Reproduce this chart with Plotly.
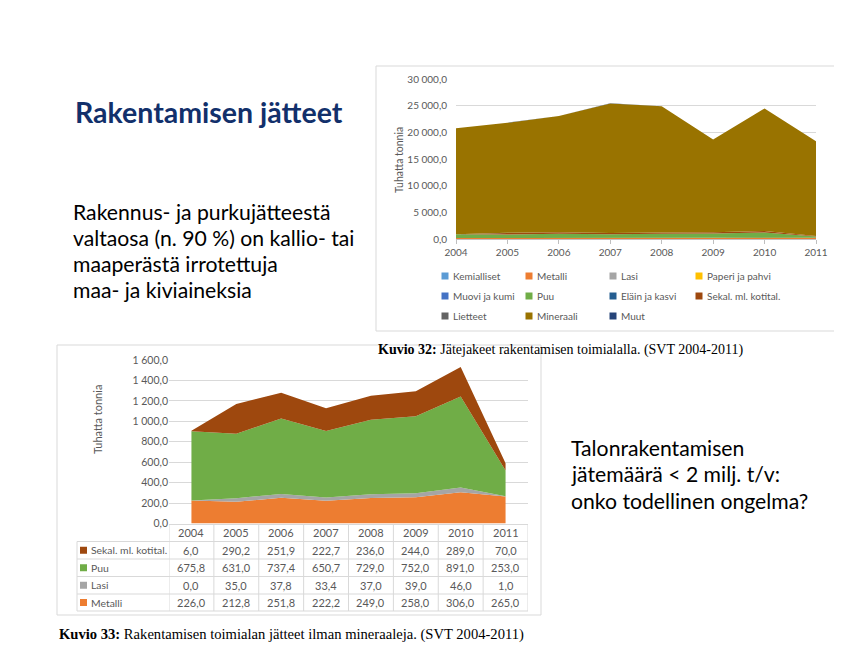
"""
Slide: Rakentamisen jätteet - two stacked area charts with text
"""
import plotly.graph_objects as go

W, H = 842, 651
OFF = 8  # page body margin in the browser

years = [2004, 2005, 2006, 2007, 2008, 2009, 2010, 2011]

# construction waste fractions, thousand tonnes
kemialliset = [12.0, 10.0, 11.0, 9.0, 10.0, 9.0, 11.0, 8.0]
metalli = [226.0, 212.8, 251.8, 222.2, 249.0, 258.0, 306.0, 265.0]
lasi = [0.0, 35.0, 37.8, 33.4, 37.0, 39.0, 46.0, 1.0]
paperi = [18.0, 16.0, 17.0, 15.0, 16.0, 14.0, 15.0, 12.0]
muovi = [6.0, 5.0, 6.0, 5.0, 5.0, 5.0, 6.0, 4.0]
puu = [675.8, 631.0, 737.4, 650.7, 729.0, 752.0, 891.0, 253.0]
elain = [3.0, 3.0, 3.0, 2.0, 3.0, 2.0, 3.0, 2.0]
sekal = [6.0, 290.2, 251.9, 222.7, 236.0, 244.0, 289.0, 70.0]
lietteet = [4.0, 4.0, 3.0, 3.0, 4.0, 3.0, 4.0, 3.0]
mineraali = [19850.0, 20650.0, 21800.0, 24320.0, 23650.0, 17400.0, 22950.0, 17750.0]
muut = [8.0, 7.0, 8.0, 6.0, 7.0, 6.0, 7.0, 5.0]

top_series = [
    ("Kemialliset", kemialliset, "#5B9BD5"),
    ("Metalli", metalli, "#ED7D31"),
    ("Lasi", lasi, "#A5A5A5"),
    ("Paperi ja pahvi", paperi, "#FFC000"),
    ("Muovi ja kumi", muovi, "#4472C4"),
    ("Puu", puu, "#70AD47"),
    ("Eläin ja kasvi", elain, "#255E91"),
    ("Sekal. ml. kotital.", sekal, "#9E480E"),
    ("Lietteet", lietteet, "#636363"),
    ("Mineraali", mineraali, "#997300"),
    ("Muut", muut, "#264478"),
]

# bottom chart: stacked bottom -> top
bottom_series = [
    ("Metalli", metalli, "#ED7D31"),
    ("Lasi", lasi, "#A5A5A5"),
    ("Puu", puu, "#70AD47"),
    ("Sekal. ml. kotital.", sekal, "#9E480E"),
]

left_lines = ["Rakennus- ja purkujätteestä", "valtaosa (n. 90 %) on kallio- tai",
              "maaperästä irrotettuja", "maa- ja kiviaineksia"]
right_lines = ["Talonrakentamisen", "jätemäärä < 2 milj. t/v:", "onko todellinen ongelma?"]

FONT = "Lato"
GRAY = "#595959"
GRID = "#D9D9D9"


def px(x):
    return (x - OFF) / W


def py(y):
    return 1 - (y - OFF) / H


def fi(v):
    """Finnish number format: 1 234,5"""
    return f"{v:,.1f}".replace(",", " ").replace(".", ",")


def note(text, x, y, size=10, color=GRAY, family=FONT, xanchor='left', xref='paper', **kw):
    return dict(text=text, xref=xref, yref='paper', x=x, y=y,
                xanchor=xanchor, yanchor='middle', showarrow=False,
                font=dict(family=family, size=size, color=color), **kw)


fig = go.Figure()

for name, vals, color in top_series:
    fig.add_trace(go.Scatter(
        x=years, y=vals, name=name, mode='lines',
        stackgroup='top', line=dict(width=0, color=color),
        fillcolor=color, xaxis='x', yaxis='y', showlegend=False
    ))

for name, vals, color in bottom_series:
    fig.add_trace(go.Scatter(
        x=years, y=vals, name=name, mode='lines',
        stackgroup='bottom', line=dict(width=0, color=color),
        fillcolor=color, xaxis='x2', yaxis='y2', showlegend=False
    ))

shapes = []
annotations = []

# chart frames
shapes.append(dict(type='rect', xref='paper', yref='paper',
                   x0=px(376), x1=px(838), y0=py(331), y1=py(66),
                   line=dict(color=GRID, width=1), layer='below'))
shapes.append(dict(type='rect', xref='paper', yref='paper',
                   x0=px(57), x1=px(541), y0=py(615), y1=py(345),
                   line=dict(color=GRID, width=1), layer='below'))

# manual legend for top chart, 4 columns
col_x = [445, 529, 613, 699]
row_y = [276, 296, 316]
for i, (name, vals, color) in enumerate(top_series):
    cx = col_x[i % 4]
    ry = row_y[i // 4]
    shapes.append(dict(type='rect', xref='paper', yref='paper',
                       x0=px(cx - 3.5), x1=px(cx + 3.5),
                       y0=py(ry + 3.5), y1=py(ry - 3.5),
                       fillcolor=color, line=dict(width=0)))
    annotations.append(note(name, px(cx + 6), py(ry)))

# data table under bottom chart
row_lines = [541.5, 559, 576.5, 594, 611]
table_rows = [
    ("Sekal. ml. kotital.", sekal, "#9E480E"),
    ("Puu", puu, "#70AD47"),
    ("Lasi", lasi, "#A5A5A5"),
    ("Metalli", metalli, "#ED7D31"),
]
for yy in row_lines:
    shapes.append(dict(type='line', xref='paper', yref='paper',
                       x0=px(77), x1=px(528), y0=py(yy), y1=py(yy),
                       line=dict(color=GRID, width=1)))
shapes.append(dict(type='line', xref='paper', yref='paper',
                   x0=px(77), x1=px(77), y0=py(541.5), y1=py(611),
                   line=dict(color=GRID, width=1)))
for yr in [years[0] - 0.5] + [y + 0.5 for y in years]:
    shapes.append(dict(type='line', xref='x2', yref='paper',
                       x0=yr, x1=yr, y0=py(524), y1=py(611),
                       line=dict(color=GRID, width=1)))

for yr in years:
    annotations.append(note(str(yr), yr, py(532.5), size=11, xanchor='center', xref='x2'))

for r, (name, vals, color) in enumerate(table_rows):
    cy = (row_lines[r] + row_lines[r + 1]) / 2
    shapes.append(dict(type='rect', xref='paper', yref='paper',
                       x0=px(80), x1=px(87), y0=py(cy + 3.5), y1=py(cy - 3.5),
                       fillcolor=color, line=dict(width=0)))
    annotations.append(note(name, px(89), py(cy), size=10.4))
    for yr, v in zip(years, vals):
        annotations.append(note(fi(v), yr, py(cy), size=11, xanchor='center', xref='x2'))

# axis titles
annotations.append(note("Tuhatta tonnia", px(399), py(160), size=10.5,
                        xanchor='center', textangle=-90))
annotations.append(note("Tuhatta tonnia", px(97), py(420), size=11,
                        xanchor='center', textangle=-90))

# slide texts
annotations.append(note("<b>Rakentamisen jätteet</b>", px(73), py(112),
                        size=28.5, color="#12306B"))
for i, line in enumerate(left_lines):
    annotations.append(note(line, px(71), py(212 + 26 * i), size=21.2, color="#000000"))
for i, line in enumerate(right_lines):
    annotations.append(note(line, px(569), py(448 + 26.5 * i), size=21.2, color="#000000"))

# captions
annotations.append(note(
    "<b>Kuvio 32:</b> Jätejakeet rakentamisen toimialalla. (SVT 2004-2011)",
    px(376), py(350), size=14, color="#000000", family="Liberation Serif"))
annotations.append(note(
    "<b>Kuvio 33:</b> Rakentamisen toimialan jätteet ilman mineraaleja. (SVT 2004-2011)",
    px(57), py(634), size=14.6, color="#000000", family="Liberation Serif"))

fig.update_layout(
    width=W, height=H,
    margin=dict(l=0, r=0, t=0, b=0, pad=0, autoexpand=False),
    paper_bgcolor='white', plot_bgcolor='white',
    separators=', ',
    showlegend=False,
    shapes=shapes,
    annotations=annotations,
    xaxis=dict(
        domain=[px(456), px(816)], anchor='y', range=[2004, 2011],
        tickmode='array', tickvals=years, ticktext=[str(y) for y in years],
        showgrid=False, zeroline=False, showline=True, linecolor='#BFBFBF',
        ticks='outside', ticklen=4, tickcolor='#BFBFBF', automargin=False,
        tickfont=dict(family=FONT, size=10, color=GRAY), fixedrange=True
    ),
    yaxis=dict(
        domain=[py(239.3), py(79.3)], anchor='x', range=[0, 30000],
        tickvals=[0, 5000, 10000, 15000, 20000, 25000, 30000], tickformat=',.1f',
        showgrid=True, gridcolor=GRID, zeroline=False, showline=False,
        ticks='', ticklabelstandoff=8, automargin=False,
        tickfont=dict(family=FONT, size=10, color=GRAY), fixedrange=True
    ),
    xaxis2=dict(
        domain=[px(169), px(528)], anchor='y2', range=[2003.5, 2011.5],
        showticklabels=False, showgrid=False, zeroline=False, automargin=False,
        showline=True, linecolor=GRID, fixedrange=True
    ),
    yaxis2=dict(
        domain=[py(523.5), py(360)], anchor='x2', range=[0, 1600],
        tickvals=[0, 200, 400, 600, 800, 1000, 1200, 1400, 1600], tickformat=',.1f',
        showgrid=True, gridcolor=GRID, zeroline=False, showline=False,
        ticks='', ticklabelstandoff=0, automargin=False,
        tickfont=dict(family=FONT, size=10.5, color=GRAY), fixedrange=True
    ),
)

fig.write_html("out.html")
